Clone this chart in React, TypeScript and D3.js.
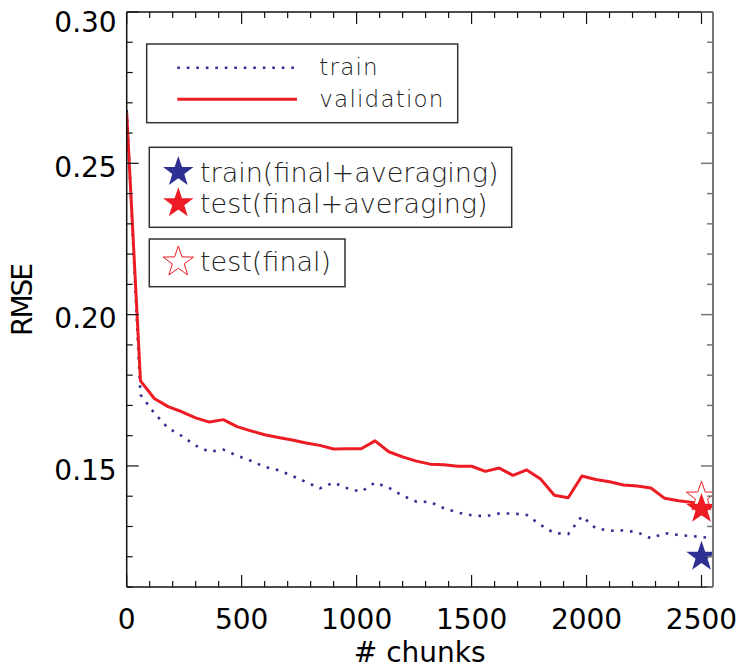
import React from "react";
import * as d3 from "d3";

const chunks = [0, 60, 120, 180, 240, 300, 360, 420, 480, 540, 600, 660, 720, 780, 840, 900, 960, 1020, 1080, 1140, 1200, 1260, 1320, 1380, 1440, 1500, 1560, 1620, 1680, 1740, 1800, 1860, 1920, 1980, 2040, 2100, 2160, 2220, 2280, 2340, 2400, 2460, 2540];
const validationRMSE = [0.2666, 0.1781, 0.1723, 0.1696, 0.1679, 0.1659, 0.1645, 0.1653, 0.1630, 0.1616, 0.1603, 0.1594, 0.1586, 0.1576, 0.1568, 0.1556, 0.1557, 0.1557, 0.1583, 0.1547, 0.1530, 0.1516, 0.1506, 0.1504, 0.1499, 0.1499, 0.1482, 0.1493, 0.1469, 0.1487, 0.1457, 0.1403, 0.1395, 0.1467, 0.1455, 0.1448, 0.1437, 0.1434, 0.1427, 0.1393, 0.1385, 0.1379, 0.1368];
const trainRMSE = [0.2676, 0.1735, 0.1675, 0.1625, 0.1599, 0.1567, 0.1547, 0.1554, 0.1534, 0.1517, 0.1497, 0.1486, 0.1467, 0.1447, 0.1426, 0.1445, 0.1426, 0.1415, 0.1445, 0.1428, 0.1402, 0.1382, 0.1381, 0.1360, 0.1346, 0.1337, 0.1334, 0.1343, 0.1343, 0.1338, 0.1305, 0.1278, 0.1275, 0.1334, 0.1294, 0.1286, 0.1287, 0.1281, 0.1261, 0.1278, 0.1272, 0.1268, 0.1262];

const finalChunk = 2500;
const trainFinalAvg = 0.1200;
const testFinalAvg = 0.1358;
const testFinal = 0.1397;

const xTicks = [0, 500, 1000, 1500, 2000, 2500];
const xTickLabels = ["0", "500", "1000", "1500", "2000", "2500"];
const yTicks = [0.15, 0.2, 0.25, 0.3];
const yTickLabels = ["0.15", "0.20", "0.25", "0.30"];

const BLUE = "#2e3192";
const RED = "#ed1c24";

const L = 126.7, R = 713.0, T = 12, B = 587;

function starPath(cx: number, cy: number, ro: number, ri: number) {
  const pts: string[] = [];
  for (let i = 0; i < 10; i++) {
    const a = (-90 + i * 36) * Math.PI / 180;
    const r = i % 2 === 0 ? ro : ri;
    pts.push(`${(cx + r * Math.cos(a)).toFixed(2)},${(cy + r * Math.sin(a)).toFixed(2)}`);
  }
  return "M" + pts.join("L") + "Z";
}

export default function App() {
  const x = d3.scaleLinear().domain([0, 2550]).range([L, R]);
  const y = d3.scaleLinear().domain([0.11, 0.30]).range([B, T]);
  const line = d3.line<number>().x((_, i) => x(chunks[i])).y((d) => y(d));

  const xMinor = d3.range(0, 2551, 100);
  const yMinor = d3.range(0.11, 0.3001, 0.01);
  const tickFont = "'DejaVu Sans', sans-serif";
  const legFont = "'DejaVu Sans', sans-serif";
  const starRo = 16, starRi = 6.3;

  return (
    <svg width={738} height={668} style={{ position: "absolute", left: 0, top: 0, background: "#fff" }}>
      <defs>
        <clipPath id="plotclip">
          <rect x={L} y={T} width={R - L} height={B - T} />
        </clipPath>
      </defs>
      <rect x={0} y={0} width={738} height={668} fill="#fff" />

      {/* data */}
      <g clipPath="url(#plotclip)">
        <path d={line(trainRMSE) || ""} fill="none" stroke={BLUE} strokeWidth={2.6} strokeDasharray="2.6 6.9" strokeLinecap="butt" />
        <path d={line(validationRMSE) || ""} fill="none" stroke={RED} strokeWidth={3} strokeLinejoin="round" />
        <path d={starPath(x(finalChunk), y(testFinal), starRo, starRi)} fill="#fff" stroke={RED} strokeWidth={1} />
        <path d={starPath(x(finalChunk), y(testFinalAvg), starRo, starRi)} fill={RED} />
        <path d={starPath(x(finalChunk), y(trainFinalAvg), starRo, starRi)} fill={BLUE} />
      </g>

      {/* axes box */}
      <line x1={L} y1={T} x2={R} y2={T} stroke="#111" strokeWidth={1.5} />
      <line x1={L} y1={B} x2={R} y2={B} stroke="#111" strokeWidth={1.5} />
      <line x1={L} y1={T} x2={L} y2={B} stroke="#111" strokeWidth={1.5} />
      <line x1={R} y1={T} x2={R} y2={B} stroke="#777" strokeWidth={2} />

      {/* x ticks */}
      {xMinor.map((v) => {
        const major = v % 500 === 0;
        const len = major ? 12 : 6;
        return (
          <g key={"xt" + v}>
            <line x1={x(v)} x2={x(v)} y1={B} y2={B - len} stroke="#111" strokeWidth={1.2} />
            <line x1={x(v)} x2={x(v)} y1={T} y2={T + len} stroke="#111" strokeWidth={1.2} />
          </g>
        );
      })}
      {/* y ticks */}
      {yMinor.map((v, i) => {
        const major = Math.abs(v * 100 - Math.round(v / 0.05) * 5) < 1e-6;
        const len = major ? 12 : 6;
        return (
          <g key={"yt" + i}>
            <line x1={L} x2={L + len} y1={y(v)} y2={y(v)} stroke="#111" strokeWidth={1.2} />
            <line x1={R} x2={R - len} y1={y(v)} y2={y(v)} stroke="#777" strokeWidth={1.5} />
          </g>
        );
      })}

      {/* tick labels */}
      {xTicks.map((v, i) => (
        <text key={"xl" + v} x={x(v)} y={629} textAnchor="middle" fontFamily={tickFont} fontSize={28} fill="#000">
          {xTickLabels[i]}
        </text>
      ))}
      {yTicks.map((v, i) => (
        <text key={"yl" + v} x={116.7} y={Math.max(y(v) + 13.8, 31.7)} textAnchor="end" fontFamily={tickFont} fontSize={28} fill="#000">
          {yTickLabels[i]}
        </text>
      ))}

      {/* axis titles */}
      <text x={419.7} y={661.5} textAnchor="middle" fontFamily={tickFont} fontSize={28} fill="#000">
        # chunks
      </text>
      <text transform="translate(32,300.5) rotate(-90)" textAnchor="middle" fontFamily={tickFont} fontSize={28} letterSpacing={-2} fill="#000">
        RMSE
      </text>

      {/* legend 1 */}
      <rect x={146.7} y={44} width={311} height={78.7} fill="#fff" stroke="#333" strokeWidth={1.5} />
      <line x1={177.3} x2={297} y1={67.7} y2={67.7} stroke={BLUE} strokeWidth={2.6} strokeDasharray="2.6 6.9" />
      <line x1={177.3} x2={297} y1={99.3} y2={99.3} stroke={RED} strokeWidth={3} />
      <text x={319.3} y={75} fontFamily={legFont} fontWeight={200} fontSize={23} letterSpacing={1.2} fill="#222">train</text>
      <text x={319.3} y={107.3} fontFamily={legFont} fontWeight={200} fontSize={23} letterSpacing={1.2} fill="#222">validation</text>

      {/* legend 2 */}
      <rect x={149.3} y={147.3} width={362.4} height={80} fill="#fff" stroke="#333" strokeWidth={1.5} />
      <path d={starPath(178.3, 172, starRo, starRi)} fill={BLUE} />
      <path d={starPath(178.3, 203.3, starRo, starRi)} fill={RED} />
      <text x={200} y={181.7} fontFamily={legFont} fontWeight={200} fontSize={27} fill="#222">train(final+averaging)</text>
      <text x={200} y={212.7} fontFamily={legFont} fontWeight={200} fontSize={27} fill="#222">test(final+averaging)</text>

      {/* legend 3 */}
      <rect x={149.3} y={239} width={195.7} height={47.7} fill="#fff" stroke="#333" strokeWidth={1.5} />
      <path d={starPath(178.3, 262, starRo, starRi)} fill="#fff" stroke={RED} strokeWidth={1} />
      <text x={200} y={270.7} fontFamily={legFont} fontWeight={200} fontSize={27} fill="#222">test(final)</text>
    </svg>
  );
}
